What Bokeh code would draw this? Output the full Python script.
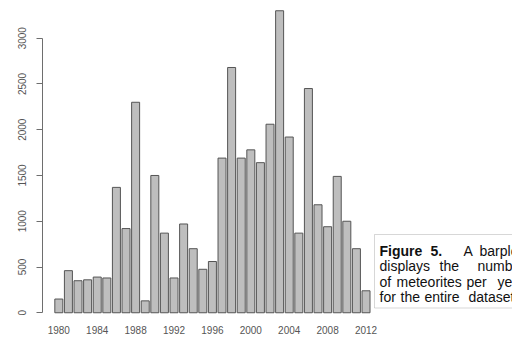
from bokeh.plotting import figure
from bokeh.models import (Range1d, LinearAxis, FixedTicker, BoxAnnotation, Label,
                          ColumnDataSource)
from bokeh.embed import file_html
from bokeh.resources import INLINE

# Meteorite counts per year
years = list(range(1980, 2013))
counts = [150, 460, 350, 360, 390, 380, 1370, 920, 2300, 130,
          1500, 870, 380, 970, 700, 475, 560, 1690, 2680, 1690,
          1780, 1640, 2060, 3300, 1920, 870, 2450, 1180, 940, 1490,
          1000, 700, 240]

y_ticks = [0, 500, 1000, 1500, 2000, 2500, 3000]
x_ticks = [1980, 1984, 1988, 1992, 1996, 2000, 2004, 2008, 2012]

# Caption words: (text, bold)
caption_lines = [
    [("Figure", True), ("5.", True), ("A", False), ("barplot", False)],
    [("displays", False), ("the", False), ("number", False)],
    [("of", False), ("meteorites", False), ("per", False), ("year", False)],
    [("for", False), ("the", False), ("entire", False), ("dataset.", False)],
]

# ---- layout ----
FRAME_W, FRAME_H = 470, 314
LEFT_BORDER, BOTTOM_BORDER = 42, 24
PX_PER_YEAR = 9.6
X_LO = 1978.3
X_HI = X_LO + FRAME_W / PX_PER_YEAR
Y_LO, Y_HI = -19, 3412

def sx(px):
    """Canvas pixel x -> data x."""
    return X_LO + (px - LEFT_BORDER) / PX_PER_YEAR

def sy(py):
    """Canvas pixel y (from top) -> data y."""
    return Y_HI - py * (Y_HI - Y_LO) / FRAME_H

p = figure(frame_width=FRAME_W, frame_height=FRAME_H,
           x_range=Range1d(X_LO, X_HI), y_range=Range1d(Y_LO, Y_HI),
           output_backend="svg", toolbar_location=None,
           x_axis_location=None, y_axis_location=None,
           min_border_left=LEFT_BORDER, min_border_bottom=BOTTOM_BORDER,
           min_border_top=0, min_border_right=0)
p.outline_line_color = None
p.xgrid.visible = False
p.ygrid.visible = False
p.background_fill_color = "white"
p.border_fill_color = "white"

src = ColumnDataSource(dict(year=years, count=counts))
p.vbar(x="year", top="count", bottom=0, width=1 / 1.2, source=src,
       fill_color="#bebebe", line_color="#555555", line_width=1)

# y axis (R style, spans only the tick range)
yax = LinearAxis(ticker=FixedTicker(ticks=y_ticks), bounds=(0, 3000))
yax.major_label_orientation = "vertical"
yax.major_tick_out = 6
yax.major_tick_in = 0
yax.minor_tick_line_color = None
yax.axis_line_color = "#6e6e6e"
yax.major_tick_line_color = "#6e6e6e"
yax.major_label_text_font = "Liberation Sans"
yax.major_label_text_font_size = "10px"
yax.major_label_text_color = "#555555"
yax.major_label_standoff = 10
p.add_layout(yax, "left")

# x axis: labels only
xax = LinearAxis(ticker=FixedTicker(ticks=x_ticks))
xax.axis_line_color = None
xax.major_tick_line_color = None
xax.major_tick_out = 0
xax.major_tick_in = 0
xax.minor_tick_line_color = None
xax.minor_tick_out = 0
xax.major_label_text_font = "Liberation Sans"
xax.major_label_text_font_size = "10px"
xax.major_label_text_color = "#555555"
xax.major_label_standoff = 11
p.add_layout(xax, "below")

# caption box
p.add_layout(BoxAnnotation(left=sx(374), right=sx(530), top=sy(234), bottom=sy(307.5),
                           fill_color="white", fill_alpha=1.0,
                           line_color="#7a7a7a", line_width=1))

# justified caption: each word placed at its own x
word_x = [
    [379, 430, 463, 479],
    [379, 439, 477],
    [379, 396, 466, 497],
    [379, 400, 424, 468],
]
baselines = [250.5, 265.5, 281, 296]
for line, xs, base in zip(caption_lines, word_x, baselines):
    for (word, bold), px in zip(line, xs):
        p.add_layout(Label(x=sx(px), y=sy(base), text=word,
                           text_font="Liberation Sans", text_font_size="14px",
                           text_font_style="bold" if bold else "normal",
                           text_color="#111111", text_baseline="alphabetic",
                           text_align="left"))

open("out.html", "w").write(file_html(p, INLINE))
